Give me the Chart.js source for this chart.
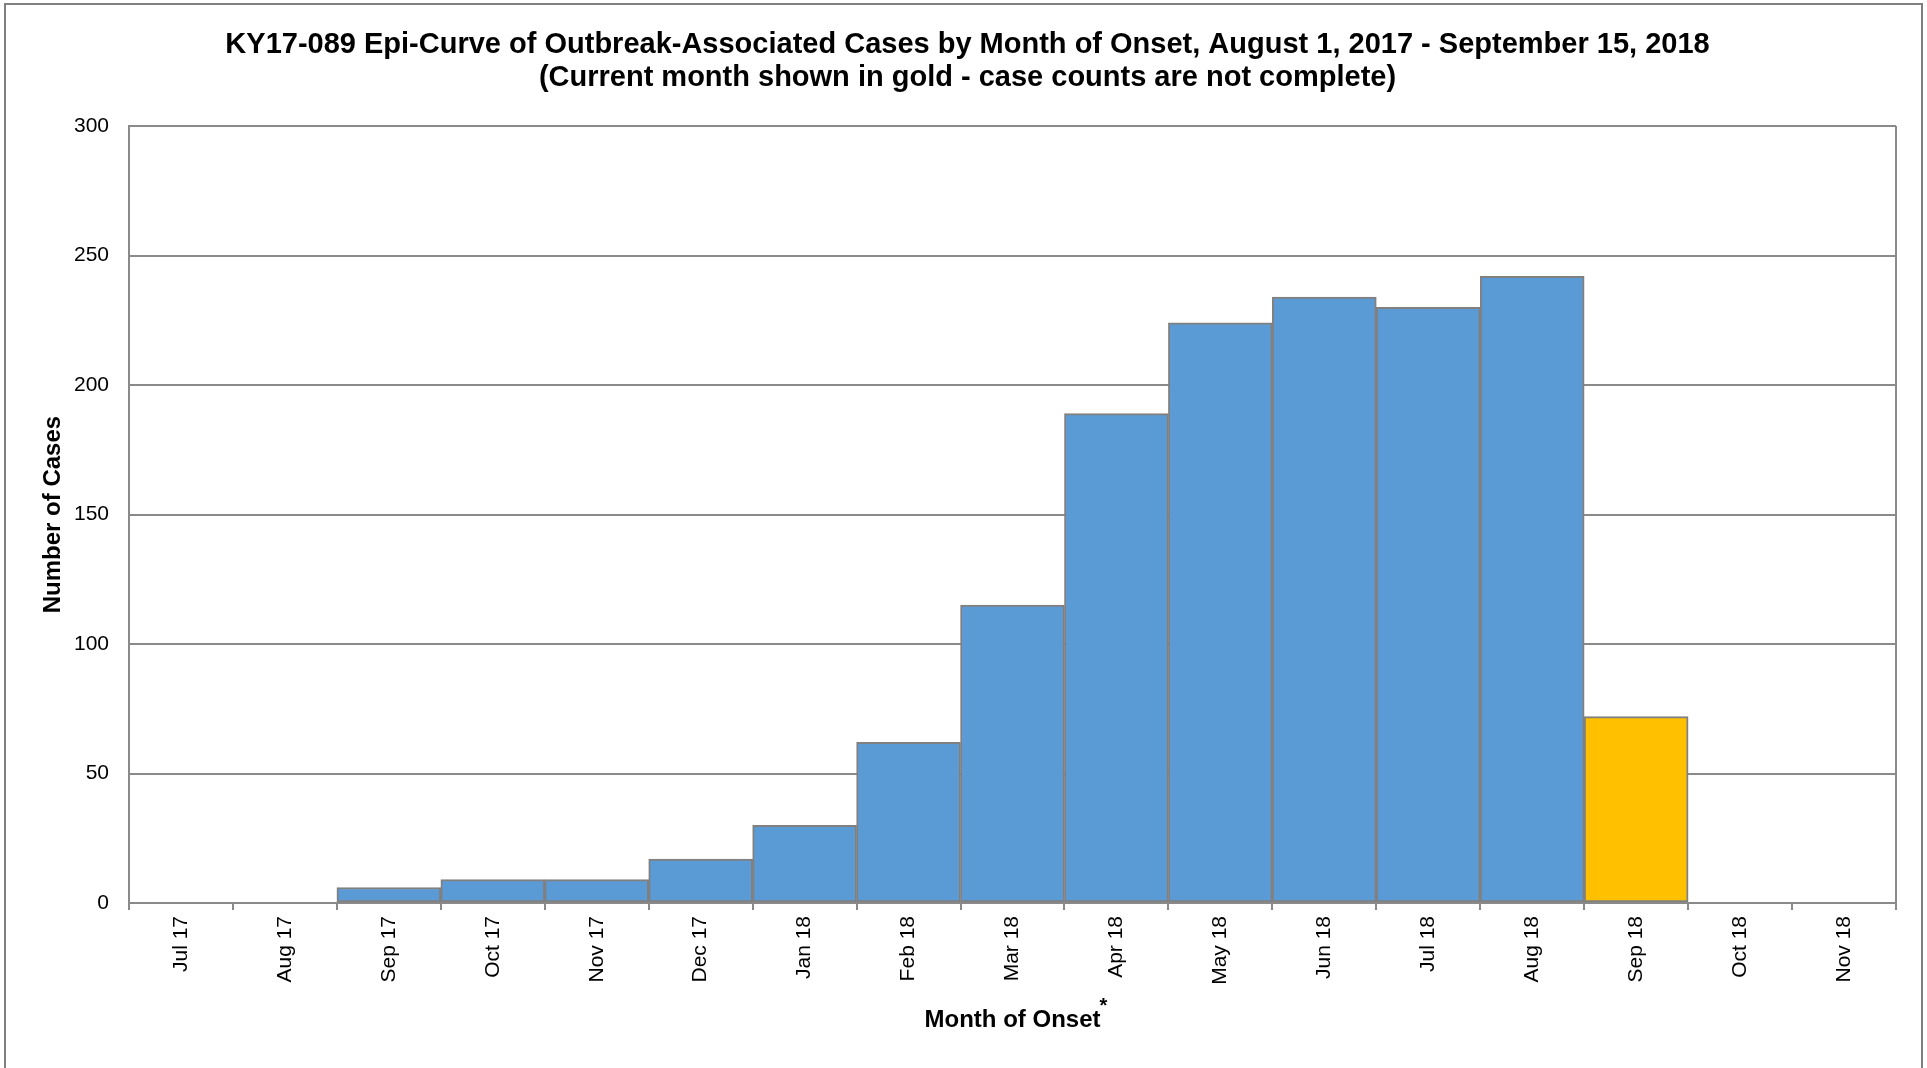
<!DOCTYPE html>
<html>
<head>
<meta charset="utf-8">
<script src="https://cdn.jsdelivr.net/npm/chart.js@4.4.1/dist/chart.umd.min.js"></script>
<style>
  html, body { margin: 0; padding: 0; background: #ffffff; overflow: hidden; }
  #wrap { position: absolute; left: 0; top: 0; width: 1927px; height: 1068px; }
  #frame { position: absolute; left: 4px; top: 3px; width: 1919px; height: 1100px; border: 2px solid #808080; box-sizing: border-box; pointer-events: none; }
</style>
</head>
<body>
<div id="wrap"><canvas id="c" width="1927" height="1068"></canvas></div>
<div id="frame"></div>
<script>
// ---- data ----
const months = ['Jul 17','Aug 17','Sep 17','Oct 17','Nov 17','Dec 17','Jan 18','Feb 18','Mar 18','Apr 18','May 18','Jun 18','Jul 18','Aug 18','Sep 18','Oct 18','Nov 18'];
const cases = [0, 0, 6, 9, 9, 17, 30, 62, 115, 189, 224, 234, 230, 242, 72, 0, 0];
const currentMonth = 'Sep 18';
const yTicks = [0, 50, 100, 150, 200, 250, 300];
const titleLines = ['KY17-089 Epi-Curve of Outbreak-Associated Cases by Month of Onset, August 1, 2017 - September 15, 2018',
                    '(Current month shown in gold - case counts are not complete)'];
const xTitle = 'Month of Onset';
const yTitle = 'Number of Cases';

// ---- styles ----
const BLUE = '#5B9BD5', GOLD = '#FFC000', EDGE = '#808080', GRID = '#8A8A8A';
const FONT = "'Liberation Sans', Arial, sans-serif";

const plotFrame = {
  id: 'plotFrame',
  afterDatasetsDraw(chart) {
    const a = chart.chartArea, ctx = chart.ctx;
    ctx.save();
    ctx.strokeStyle = GRID; ctx.lineWidth = 2;
    ctx.beginPath(); ctx.moveTo(a.right, a.top); ctx.lineTo(a.right, a.bottom); ctx.stroke();
    ctx.restore();
  }
};

const asterisk = {
  id: 'asterisk',
  afterDraw(chart) {
    const ctx = chart.ctx, a = chart.chartArea, xs = chart.scales.x;
    ctx.save();
    ctx.font = 'bold 24px ' + FONT;
    const w = ctx.measureText(xTitle).width;
    const cx = (a.left + a.right) / 2;
    ctx.font = 'bold 20px ' + FONT;
    ctx.fillStyle = '#000';
    ctx.textAlign = 'left'; ctx.textBaseline = 'middle';
    ctx.fillText('*', cx + w / 2 - 1, xs.bottom - 14.4 - 14);
    ctx.restore();
  }
};

new Chart(document.getElementById('c'), {
  type: 'bar',
  data: {
    labels: months,
    datasets: [{
      data: cases,
      backgroundColor: months.map(m => m === currentMonth ? GOLD : BLUE),
      borderColor: EDGE,
      borderWidth: 2,
      borderSkipped: false,
      barPercentage: 1.0,
      categoryPercentage: 1.0
    }]
  },
  options: {
    responsive: false,
    animation: false,
    devicePixelRatio: 1,
    layout: { padding: { left: 39, right: 31, top: 0, bottom: 33 } },
    plugins: {
      legend: { display: false },
      tooltip: { enabled: false },
      title: {
        display: true,
        text: titleLines,
        color: '#000',
        font: { family: FONT, size: 29, weight: 'bold', lineHeight: 1.14 },
        padding: { top: 28, bottom: 32 }
      }
    },
    scales: {
      x: {
        grid: { display: true, drawOnChartArea: false, drawTicks: true, tickLength: 7, color: GRID, lineWidth: 2, offset: true },
        border: { display: true, color: GRID, width: 2 },
        ticks: { color: '#000', font: { family: FONT, size: 21 }, minRotation: 90, maxRotation: 90, padding: 6, autoSkip: false },
        title: { display: true, text: xTitle, color: '#000', font: { family: FONT, size: 24, weight: 'bold' }, padding: 0 },
        afterFit(s) { s.height = 132; }
      },
      y: {
        min: 0, max: 300,
        afterBuildTicks(s) { s.ticks = yTicks.map(v => ({ value: v })); },
        grid: { color: GRID, lineWidth: 2, drawTicks: false },
        border: { display: true, color: GRID, width: 2 },
        ticks: { color: '#000', font: { family: FONT, size: 21 }, padding: 20 },
        title: { display: true, text: yTitle, color: '#000', font: { family: FONT, size: 24, weight: 'bold' }, padding: 0 },
        afterFit(s) { s.width = 90; }
      }
    }
  },
  plugins: [plotFrame, asterisk]
});
</script>
</body>
</html>
